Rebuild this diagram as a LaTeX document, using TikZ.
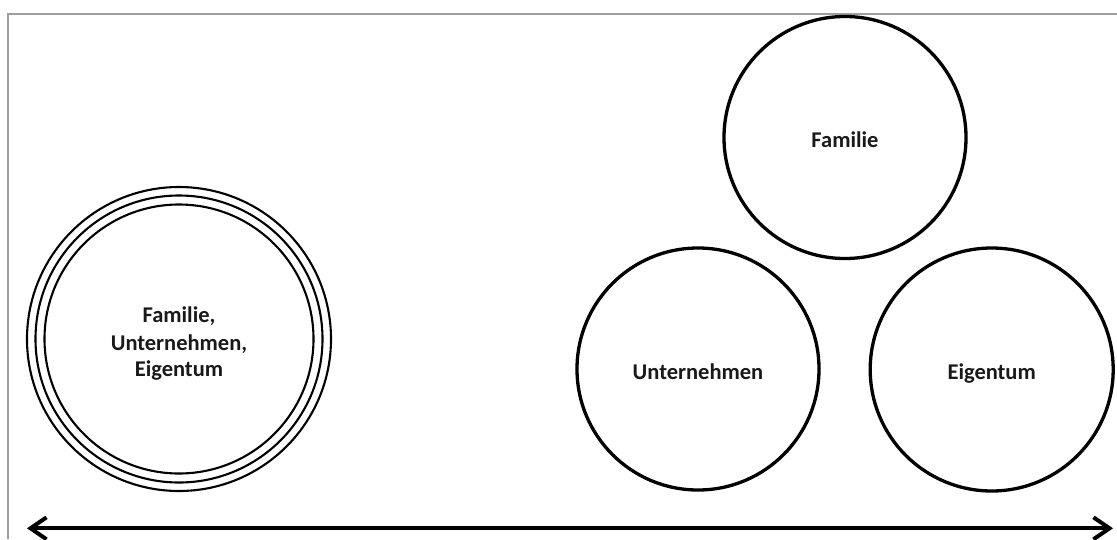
\documentclass[tikz,border=0pt]{standalone}
\usepackage{fontspec}
\setmainfont{Carlito}
\usetikzlibrary{arrows.meta}
\begin{document}
\begin{tikzpicture}[x=1pt,y=-1pt,
  ring/.style={circle,draw=black,line width=3.3pt,inner sep=0pt,minimum size=#1},
  thinring/.style={circle,draw=black,line width=2.1pt,inner sep=0pt,minimum size=#1},
  lbl/.style={font=\fontsize{22.5}{27.5}\selectfont\bfseries,inner sep=0pt,text=black!90,anchor=base},
  frame/.style={draw=black!38,line width=2pt}]
\useasboundingbox (0,0) rectangle (1117,539);
\coordinate (fa) at (8.3,539);
\coordinate (fb) at (8.3,14.3);
\coordinate (fc) at (1117,14.3);
\draw[frame] (fa) -- (fb) -- (fc);
% triple circle
\node[thinring=304pt] (t1) at (179,339) {};
\node[thinring=287pt] (t2) at (179,339) {};
\node[thinring=269pt] (t3) at (179,339) {};
\node[lbl] (tla) at (179,322.7) {Familie,};
\node[lbl] (tlb) at (179,350) {Unternehmen,};
\node[lbl] (tlc) at (179,376.7) {Eigentum};
% three circles
\node[ring=242pt] (fam) at (845,137.5) {};
\node[ring=242pt] (unt) at (698,369) {};
\node[ring=243pt] (eig) at (991.7,369.5) {};
\node[lbl] (faml) at (845,147.7) {Familie};
\node[lbl] (untl) at (698,379.3) {Unternehmen};
\node[lbl] (eigl) at (991.7,379.3) {Eigentum};
% arrow
\coordinate (al) at (27,528.3);
\coordinate (ar) at (1113,528.3);
\draw[line width=4pt,{Straight Barb[length=16pt,width=22pt,line width=4pt]}-{Straight Barb[length=16pt,width=22pt,line width=4pt]}] (al) -- (ar);
\end{tikzpicture}
\end{document}
